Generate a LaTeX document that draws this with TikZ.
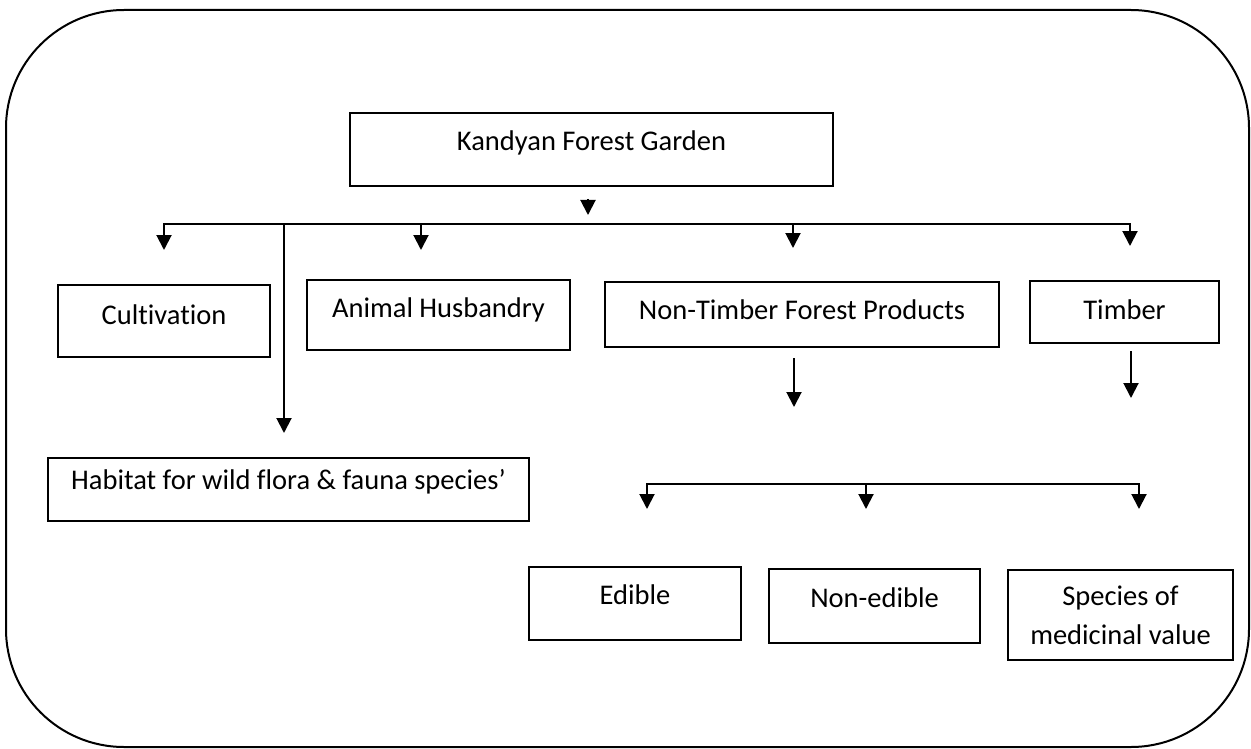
\documentclass[tikz,border=0pt]{standalone}
\usepackage{fontspec}
\setmainfont{Carlito}[Ligatures=NoCommon]
\usetikzlibrary{arrows.meta}
\usetikzlibrary{positioning}

\tikzset{box/.style={draw,line width=1.6pt,inner sep=0pt,anchor=base}}

\begin{document}
\begin{tikzpicture}[x=1pt,y=-1pt,>={Triangle[width=15pt,length=15pt]},line width=2pt,font=\fontsize{28.5}{39}\selectfont]
\useasboundingbox (0,0) rectangle (1251,749);
\draw[rounded corners=118pt] (6,10) rectangle (1249,747);

\node[box,minimum width=483pt,text height=38pt,text depth=35pt] (kfg) at (591.5,151) {Kandyan Forest Garden};
\node[box,minimum width=212pt,text height=39pt,text depth=33pt] (cult) at (164,324) {Cultivation};
\node[box,minimum width=263pt,text height=37pt,text depth=33pt] (anim) at (438.5,317) {Animal Husbandry};
\node[box,minimum width=394pt,text height=37pt,text depth=28pt] (ntfp) at (802,319) {Non-Timber Forest Products};
\node[box,minimum width=189pt,text height=38pt,text depth=24pt] (timb) at (1124.5,319) {Timber};
\node[box,minimum width=481pt,text height=31pt,text depth=32pt] (habi) at (288.5,489) {Habitat for wild flora \& fauna species’};
\node[box,minimum width=212pt,text height=37pt,text depth=36pt] (edib) at (635,604) {Edible};
\node[box,minimum width=211pt,text height=38pt,text depth=36pt] (nedib) at (874.5,607) {Non-edible};
\node[box,anchor=center,align=center,minimum width=225pt,minimum height=90pt] (medi) at (1120.5,615) {Species of\\medicinal value};

\coordinate (k1) at (588,199);
\coordinate (k2) at (588,215);
\coordinate (bCult) at (164,224);
\coordinate (bHab) at (284,224);
\coordinate (bAnim) at (421,224);
\coordinate (bNtfp) at (793,224);
\coordinate (bTimb) at (1130,224);
\coordinate (tCult) at (164,250);
\coordinate (tHab) at (284,433);
\coordinate (tAnim) at (421,250);
\coordinate (tNtfp) at (793,248);
\coordinate (tTimb) at (1130,246);
\coordinate (nA) at (794,358);
\coordinate (nB) at (794,407);
\coordinate (mA) at (1131,351);
\coordinate (mB) at (1131,398);
\coordinate (lEdib) at (647,484);
\coordinate (lNedib) at (866,484);
\coordinate (lMedi) at (1139,484);
\coordinate (tEdib) at (647,509);
\coordinate (tNedib) at (866,509);
\coordinate (tMedi) at (1139,509);

\draw[->] (k1) -- (k2);
\draw[<->] (tCult) -- (bCult) -- (bTimb) -- (tTimb);
\draw[->] (bHab) -- (tHab);
\draw[->] (bAnim) -- (tAnim);
\draw[->] (bNtfp) -- (tNtfp);

\draw[->] (nA) -- (nB);
\draw[->] (mA) -- (mB);

\draw[<->] (tEdib) -- (lEdib) -- (lMedi) -- (tMedi);
\draw[->] (lNedib) -- (tNedib);

\end{tikzpicture}
\end{document}
